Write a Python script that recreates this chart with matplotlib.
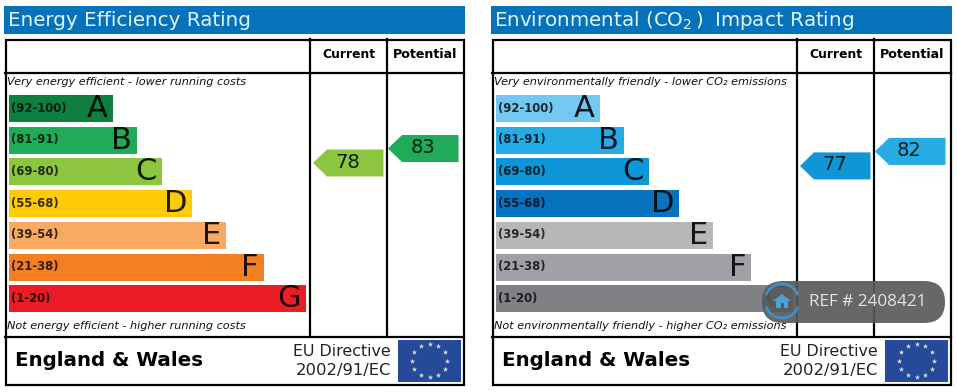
import numpy as np
import matplotlib
matplotlib.use("Agg")
import matplotlib.pyplot as plt
from matplotlib.patches import Rectangle, Polygon, FancyBboxPatch, Arc

bands = ["A", "B", "C", "D", "E", "F", "G"]
ranges = ["(92-100)", "(81-91)", "(69-80)", "(55-68)", "(39-54)", "(21-38)", "(1-20)"]
bar_lengths_energy = [104, 128, 153, 183, 217, 255, 297]
bar_lengths_co2 = [104, 128, 153, 183, 217, 255, 297]
colors_energy = ["#0e7f3f", "#1fab58", "#8cc63f", "#ffcb05", "#f8aa63", "#f37f22", "#ec1c26"]
colors_co2 = ["#72c8f1", "#25ace5", "#0e96d6", "#0772bd", "#b5b7b9", "#9fa1a4", "#808184"]
titles = ["Energy Efficiency Rating", r"Environmental (CO$_2\,$)$\;$ Impact Rating"]
top_notes = ["Very energy efficient - lower running costs",
             "Very environmentally friendly - lower CO₂ emissions"]
bottom_notes = ["Not energy efficient - higher running costs",
                "Not environmentally friendly - higher CO₂ emissions"]
current_scores = [78, 77]
potential_scores = [83, 82]

fig = plt.figure(figsize=(9.57, 3.92), dpi=100, facecolor="white")
ax = fig.add_axes([0, 0, 1, 1])
ax.set_xlim(0, 957)
ax.set_ylim(392, 0)
ax.axis("off")


def score_arrow(x0, score, color):
    # arrow height follows the score, about 2.9px per point
    top = 135 + (83 - score) * 2.9
    pts = [(x0, top + 13.5), (x0 + 14, top), (x0 + 70.5, top),
           (x0 + 70.5, top + 27), (x0 + 14, top + 27)]
    ax.add_patch(Polygon(pts, closed=True, fc=color, ec="none", zorder=3))
    ax.text(x0 + 34.5, top + 12.5, str(score), fontsize=14, color="#0c1f1a",
            ha="center", va="center", zorder=4)


def panel(dx, i, lengths, colors):
    ax.add_patch(Rectangle((4 + dx, 6), 461, 28, fc="#0672bc", ec="none"))
    ax.text(7.5 + dx, 20, titles[i], fontsize=14.35, color="#dff6fb", va="center")

    # frame and column lines
    ax.add_patch(Rectangle((5.5 + dx, 39.5), 458, 345.5, fc="none", ec="black", lw=1.6, zorder=2))
    ax.plot([5 + dx, 464 + dx], [72.5, 72.5], color="black", lw=1.6, zorder=2)
    ax.plot([5 + dx, 464 + dx], [336.5, 336.5], color="black", lw=1.6, zorder=2)
    ax.plot([310 + dx, 310 + dx], [39, 336], color="black", lw=1.6, zorder=2)
    ax.plot([387 + dx, 387 + dx], [39, 336], color="black", lw=1.6, zorder=2)
    ax.text(348.5 + dx, 54.5, "Current", fontsize=8.9, fontweight="bold", ha="center", va="center")
    ax.text(425 + dx, 54.5, "Potential", fontsize=9.1, fontweight="bold", ha="center", va="center")

    ax.text(7 + dx, 82, top_notes[i], fontsize=8.15, style="italic", va="center", color="#111111")
    ax.text(7 + dx, 326, bottom_notes[i], fontsize=8.15, style="italic", va="center", color="#111111")

    ys = 108.5 + np.arange(7) * 31.7
    ax.barh(ys, lengths, left=9 + dx, height=27, color=colors, zorder=1)
    for y, band, rng, length in zip(ys, bands, ranges, lengths):
        ax.text(11 + dx, y - 0.5, rng, fontsize=8.4, fontweight="bold", va="center", color="black",
                alpha=0.78, zorder=2)
        ax.text(9 + dx + length - 5, y, band, fontsize=22, ha="right", va="center",
                color="black", alpha=0.88, zorder=2)

    score_arrow(313 + dx, current_scores[i], colors[2])
    score_arrow(388 + dx, potential_scores[i], colors[1])

    # footer
    ax.text(15 + dx, 360.5, "England & Wales", fontsize=14.3, fontweight="bold", va="center")
    ax.text(390.5 + dx, 351.5, "EU Directive", fontsize=11.4, ha="right", va="center", color="#222222")
    ax.text(391 + dx, 370.5, "2002/91/EC", fontsize=11.8, ha="right", va="center", color="#222222")
    ax.add_patch(Rectangle((398 + dx, 340), 63, 42, fc="#254a9a", ec="none"))
    ang = np.deg2rad(np.arange(0, 360, 30))
    ax.scatter(429.5 + dx + 17.5 * np.cos(ang), 360.5 + 16.5 * np.sin(ang), marker="*", s=16,
               color="#dfe3d0", linewidths=0, zorder=3)


panel(0, 0, bar_lengths_energy, colors_energy)
panel(487, 1, bar_lengths_co2, colors_co2)

# watermark over the right panel
ax.add_patch(FancyBboxPatch((762, 281), 183, 42, boxstyle="round,pad=0,rounding_size=21",
                            fc="#5a5a5a", ec="none", alpha=0.92, zorder=6))
ax.add_patch(Arc((782, 301), 34, 34, theta1=200, theta2=340, ec="#3f8fc8", lw=2, zorder=7))
ax.add_patch(Arc((782, 301), 34, 34, theta1=20, theta2=160, ec="#3f8fc8", lw=2, zorder=7))
ax.add_patch(Polygon([(773, 301), (782, 294), (791, 301)], fc="#4f9fd8", ec="none", zorder=7))
ax.add_patch(Rectangle((776, 300), 12, 8, fc="#4f9fd8", ec="none", zorder=7))
ax.add_patch(Rectangle((780.5, 303), 3, 5, fc="#5a5a5a", ec="none", zorder=8))
ax.text(809, 301.5, "REF # 2408421", fontsize=12.3, family="Open Sans", color="#e4e4e4",
        va="center", zorder=7)

fig.savefig("out.png", dpi=100, facecolor="white")
